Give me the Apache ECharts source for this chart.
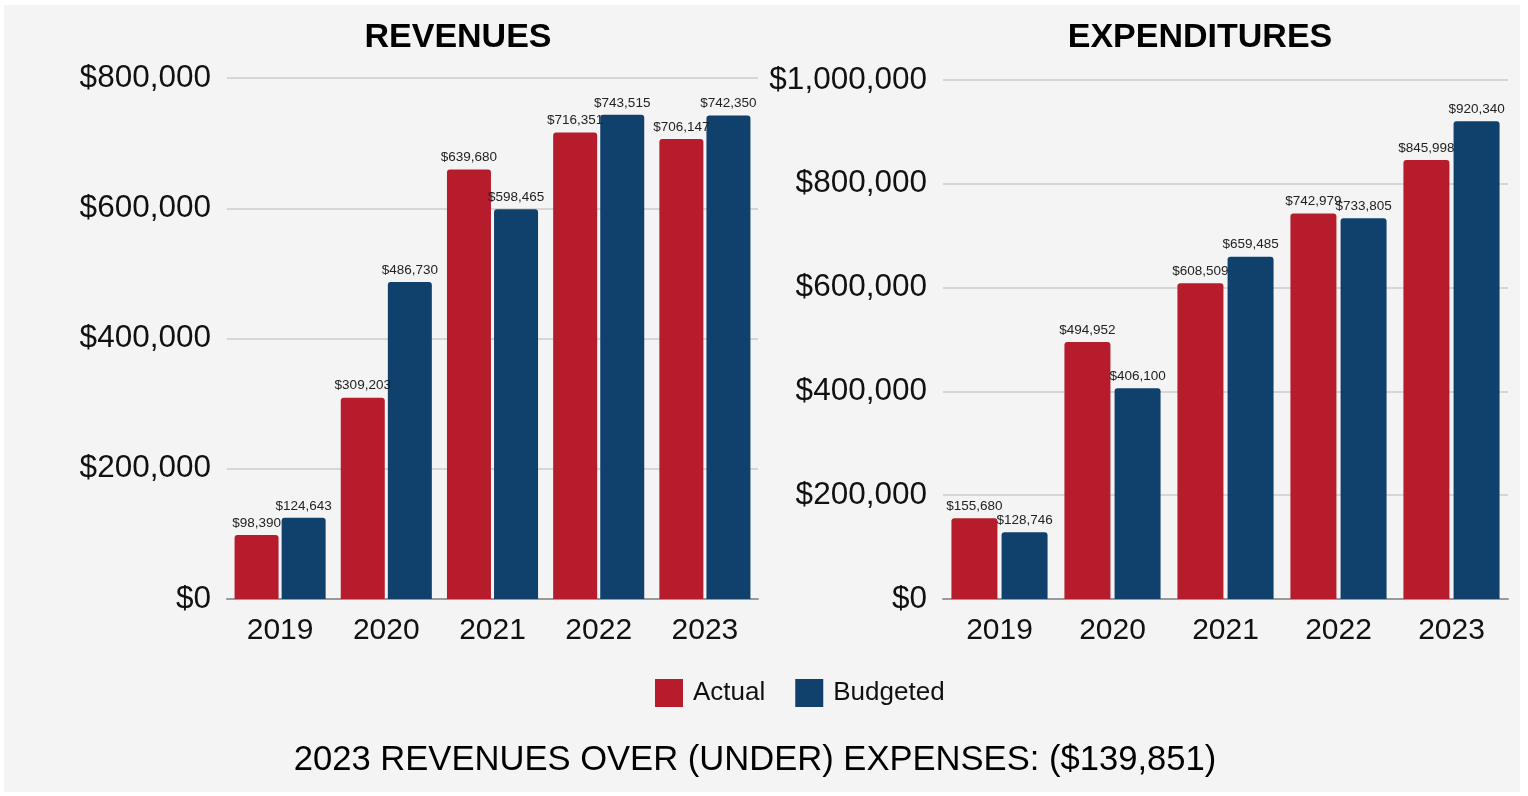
<!DOCTYPE html>
<html>
<head>
<meta charset="utf-8">
<title>Revenues and Expenditures</title>
<script src="https://cdn.jsdelivr.net/npm/echarts@6/dist/echarts.min.js"></script>
<style>
  html, body { margin: 0; padding: 0; background: #ffffff; }
  #frame { position: absolute; left: 4px; top: 5px; width: 1516px; height: 787px; background: #f4f4f4; }
  #chart { position: absolute; left: 0; top: 0; width: 1528px; height: 796px; }
</style>
</head>
<body>
<div id="frame"></div>
<div id="chart"></div>
<script>
// data
const years = ['2019', '2020', '2021', '2022', '2023']
const revActual = [98390, 309203, 659680, 716351, 706147]
const revBudget = [124643, 486730, 598465, 743515, 742350]
// the 2021 label in the source reads $639,680 although the bar is drawn near 660k
const revActualText = ['$98,390', '$309,203', '$639,680', '$716,351', '$706,147']
const expActual = [155680, 494952, 608509, 742979, 845998]
const expBudget = [128746, 406100, 659485, 733805, 920340]
const seriesNames = ['Actual', 'Budgeted']
const footerText = '2023 REVENUES OVER (UNDER) EXPENSES: ($139,851)'

const RED = '#b61c2b'
const BLUE = '#10406c'
const FONT = '"Liberation Sans", Arial, sans-serif'

const money = v => '$' + v.toLocaleString('en-US')

const xAxisFor = gridIndex => ({
  type: 'category',
  gridIndex,
  data: years,
  axisTick: { show: false },
  axisLine: { lineStyle: { color: '#9a9a9a', width: 2 } },
  axisLabel: { color: '#111', fontFamily: FONT, fontSize: 30, margin: 17 }
})

const yAxisFor = (gridIndex, max) => ({
  type: 'value',
  gridIndex,
  min: 0,
  max,
  interval: 200000,
  axisLine: { show: false },
  axisTick: { show: false },
  splitLine: { lineStyle: { color: '#cccccc', width: 1.5 } },
  axisLabel: { color: '#111', fontFamily: FONT, fontSize: 31.5, margin: 16, formatter: money }
})

const barFor = (name, idx, data, color, width, gap, texts) => ({
  name,
  type: 'bar',
  xAxisIndex: idx,
  yAxisIndex: idx,
  data,
  barWidth: width,
  barGap: gap,
  itemStyle: { color, borderRadius: [3, 3, 0, 0] },
  label: {
    show: true,
    position: 'top',
    distance: 5,
    color: '#222',
    fontFamily: FONT,
    fontSize: 13.5,
    formatter: p => texts ? texts[p.dataIndex] : money(p.value)
  }
})

const chart = echarts.init(document.getElementById('chart'))
chart.setOption({
  backgroundColor: 'transparent',
  animation: false,
  title: [
    { text: 'REVENUES', left: 453, top: 16, textAlign: 'center',
      textStyle: { fontFamily: FONT, fontSize: 34, fontWeight: 'bold', color: '#000' } },
    { text: 'EXPENDITURES', left: 1195, top: 16, textAlign: 'center',
      textStyle: { fontFamily: FONT, fontSize: 34, fontWeight: 'bold', color: '#000' } },
    { text: footerText, left: 750, top: 738, textAlign: 'center',
      textStyle: { fontFamily: FONT, fontSize: 34.6, fontWeight: 'normal', color: '#000' } }
  ],
  legend: {
    data: seriesNames,
    left: 650,
    top: 674,
    icon: 'rect',
    itemWidth: 28,
    itemHeight: 28,
    itemGap: 30,
    textStyle: { fontFamily: FONT, fontSize: 26, color: '#111', padding: [0, 0, 0, 5] }
  },
  grid: [
    { left: 227, width: 531, top: 78, height: 521 },
    { left: 943, width: 565, top: 80, height: 519 }
  ],
  xAxis: [xAxisFor(0), xAxisFor(1)],
  yAxis: [yAxisFor(0, 800000), yAxisFor(1, 1000000)],
  series: [
    barFor(seriesNames[0], 0, revActual, RED, 44, '7%', revActualText),
    barFor(seriesNames[1], 0, revBudget, BLUE, 44, '7%'),
    barFor(seriesNames[0], 1, expActual, RED, 46, '9%'),
    barFor(seriesNames[1], 1, expBudget, BLUE, 46, '9%')
  ]
})
</script>
</body>
</html>
